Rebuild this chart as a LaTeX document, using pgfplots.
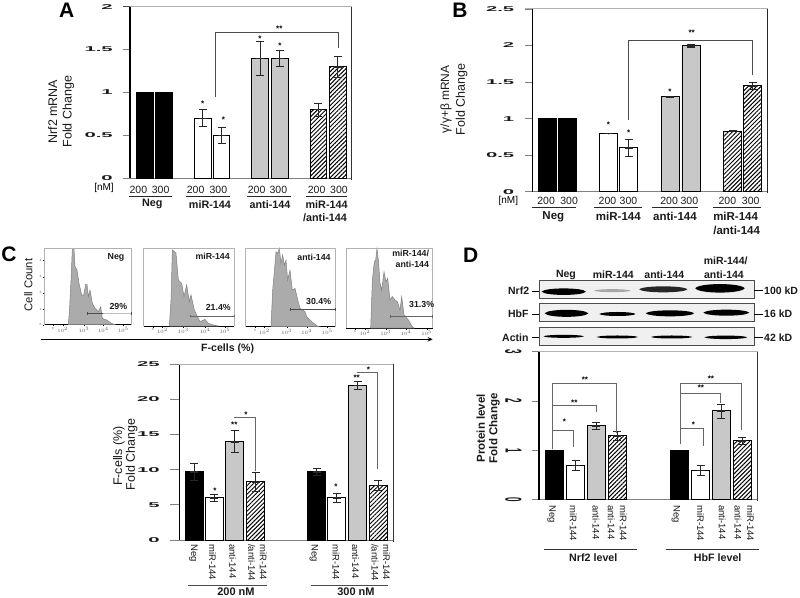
\documentclass[border=0pt]{standalone}
\usepackage{fontspec}
\setmainfont{Liberation Sans}
\usepackage{pgfplots}
\pgfplotsset{compat=1.18}
\usetikzlibrary{patterns.meta,arrows.meta}
\newcommand{\fs}[1]{\fontsize{#1}{#1}\selectfont}
\definecolor{ink}{HTML}{1A1A1A}
\definecolor{bargray}{HTML}{C8C8C8}
\definecolor{histgray}{HTML}{ABABAB}
\pgfplotsset{
  barax/.style={
    scale only axis, clip=false, enlargelimits=false, ymin=0,
    ybar, axis x line*=bottom, axis y line*=left,
    axis line style={-}, tick align=outside,
    x axis line style={draw=gray, line width=1pt},
    y axis line style={draw=black, line width=1.6pt},
    ytick style={draw=gray, line width=1pt},
    major x tick style={draw=none},
    tick label style={text=ink},
    yticklabel style={font=\bfseries\fs{7}, xscale=2.9},
    xticklabel style={font=\fs{10.5}, anchor=north},
    error bars/y dir=both, error bars/y explicit,
    error bars/error mark=none,
    error bars/error bar style={line width=1pt, black!85,
      {Bar[width=8pt,line width=0.5pt]}-{Bar[width=8pt,line width=0.5pt]}},
  },
  negbar/.style={bar shift=0pt, draw=black, line width=1pt, fill=black},
  mirbar/.style={bar shift=0pt, draw=black, line width=1pt, fill=white},
  antibar/.style={bar shift=0pt, draw=black, line width=1pt, fill=bargray},
  bothbar/.style={bar shift=0pt, draw=black, line width=1pt,
    pattern={Lines[angle=45,distance=3pt,line width=1pt]}, pattern color=black},
  flow/.style={
    scale only axis, clip=false, enlargelimits=false, ymin=0,
    axis line style={draw=gray!60, line width=0.6pt},
    axis x line*=bottom, axis y line*=left,
    x axis line style={draw=black, line width=0.7pt, -},
    y axis line style={draw=gray!60, line width=0.6pt, -},
    tick align=outside, major tick length=1.5pt,
    tick style={draw=black, line width=0.3pt},
    tick label style={font=\fs{3}, text=gray!70!black, inner sep=1pt},
    xticklabels={0,$10^2$,$10^3$,$10^4$,$10^5$},
    ytick=\empty,
  },
}
\begin{document}
\begin{tikzpicture}[x=1pt,y=-1pt]
\useasboundingbox (0,0) rectangle (800,597);

% ---------- A ----------
\begin{axis}[barax, at={(130pt,-178pt)}, anchor=south west, width=222pt, height=171.3pt,
  xmin=390, xmax=1056, ymax=2, bar width=50,
  ytick={0,0.5,1,1.5,2}, yticklabels={0,0.5,1,1.5,2}, major tick length=7pt,
  xtick={415,482,587,655,770,835,950,1017},
  xticklabels={200,300,200,300,200,300,200,300},
  xticklabel style={yshift=2pt}]
\addplot[negbar] coordinates {(435.5,1) (492.5,1)};
\addplot[mirbar] coordinates {(608,0.7) +- (0,0.1) (664.5,0.5) +- (0,0.1)};
\addplot[antibar] coordinates {(780,1.4) +- (0,0.2) (839,1.4) +- (0,0.1)};
\addplot[bothbar] coordinates {(955,0.8) +- (0,0.08) (1013,1.3) +- (0,0.13)};
\end{axis}
\begin{scope}[x=0.3333pt,y=-0.3333pt]
\draw[black!70,line width=0.7pt] (390,20) -- (370,20);
\draw[gray!60,line width=1pt] (390,20) -- (1056,20);
\draw[black!80,line width=1pt] (1056,20) -- (1056,540);
\draw[black!70,line width=0.8pt] (645,290) -- (645,97) -- (1015,97) -- (1015,145);
\foreach \x/\y in {608/312,670/360,780/115,840/138} \node[font=\bfseries\fs{8}] at (\x,\y) {*};
\node[font=\bfseries\fs{8}] at (838,87) {**};
\node[font=\bfseries\fs{21}] at (200,32) {A};
\node[font=\fs{10},inner sep=0pt] at (312,565) {[nM]};
\foreach \a/\b in {388/515,558/690,740/872,918/1042} \draw[black!85,line width=1pt] (\a,590) -- (\b,590);
\node[font=\bfseries\fs{10.8},text=ink] at (457,613) {Neg};
\node[font=\bfseries\fs{10.8},text=ink] at (630,613) {miR-144};
\node[font=\bfseries\fs{10.8},text=ink] at (810,613) {anti-144};
\node[font=\bfseries\fs{10.8},text=ink] at (980,613) {miR-144};
\node[font=\bfseries\fs{10.8},text=ink] at (975,654) {/anti-144};
\node[font=\fs{12.5},rotate=90,text=ink] at (158,335) {Nrf2 mRNA};
\node[font=\fs{12.5},rotate=90,text=ink] at (205,335) {Fold Change};
\end{scope}

% ---------- B ----------
\begin{axis}[barax, at={(532.5pt,-191.7pt)}, anchor=south west, width=235.2pt, height=182.7pt,
  xmin=397, xmax=1103, ymax=2.5, bar width=54,
  ytick={0,0.5,1,1.5,2,2.5}, yticklabels={0,0.5,1,1.5,2,2.5}, major tick length=8pt,
  xtick={438,507,622,685,807,868,982,1052},
  xticklabels={200,300,200,300,200,300,200,300},
  xticklabel style={yshift=6pt}]
\addplot[negbar] coordinates {(441.5,1) (503,1)};
\addplot[mirbar] coordinates {(625.5,0.8) +- (0,0.01) (686,0.6) +- (0,0.12)};
\addplot[antibar] coordinates {(811,1.3) +- (0,0.01) (874,2) +- (0,0.02)};
\addplot[bothbar] coordinates {(997.5,0.83) +- (0,0.01) (1058.5,1.45) +- (0,0.05)};
\end{axis}
\begin{scope}[shift={(400,0)},x=0.3333pt,y=-0.3333pt]
\draw[gray!60,line width=1pt] (375,27) -- (1103,27);
\draw[black!85,line width=1.2pt] (1103,27) -- (1103,580);
\draw[black!70,line width=0.8pt] (685,360) -- (685,122) -- (1058,122) -- (1058,225);
\foreach \x/\y in {625/375,686/397,810/275} \node[font=\bfseries\fs{8}] at (\x,\y) {*};
\node[font=\bfseries\fs{8}] at (875,97) {**};
\node[font=\bfseries\fs{21}] at (180,30) {B};
\node[font=\fs{10},inner sep=0pt] at (325,604) {[nM]};
\foreach \a/\b in {395/527,582/725,755/893,938/1083} \draw[black!85,line width=1pt] (\a,622) -- (\b,622);
\node[font=\bfseries\fs{11.5},text=ink] at (460,650) {Neg};
\node[font=\bfseries\fs{11.5},text=ink] at (655,650) {miR-144};
\node[font=\bfseries\fs{11.5},text=ink] at (825,650) {anti-144};
\node[font=\bfseries\fs{11.5},text=ink] at (1007,650) {miR-144};
\node[font=\bfseries\fs{11.5},text=ink] at (1010,692) {/anti-144};
\node[font=\fs{12},rotate=90,text=ink] at (138,298) {γ/γ+β mRNA};
\node[font=\fs{12.5},rotate=90,text=ink] at (185,298) {Fold Change};
\end{scope}

% ---------- C lower ----------
\begin{axis}[barax, at={(179.3pt,-540pt)}, anchor=south west, width=214.7pt, height=175.7pt,
  xmin=238, xmax=882, ymax=25, bar width=54,
  ytick={0,5,10,15,20,25}, yticklabels={0,5,10,15,20,25}, major tick length=9.3pt,
  xtick=\empty]
\addplot[negbar] coordinates {(283.5,9.7) +- (0,1.3) (650.5,9.7) +- (0,0.5)};
\addplot[mirbar] coordinates {(343.5,6) +- (0,0.5) (711,6) +- (0,0.7)};
\addplot[antibar] coordinates {(405,14) +- (0,1.6) (773.5,22) +- (0,0.6)};
\addplot[bothbar] coordinates {(467,8.3) +- (0,1.4) (835,7.8) +- (0,0.8)};
\end{axis}
\begin{scope}[shift={(100,360)},x=0.3333pt,y=-0.3333pt]
\draw[gray!60,line width=1pt] (238,13) -- (882,13);
\draw[black!80,line width=1pt] (882,13) -- (882,545);
\draw[black!60,line width=0.8pt] (403,172) -- (467,172) -- (467,333);
\draw[black!60,line width=0.8pt] (770,38) -- (832,38) -- (832,328);
\foreach \x/\y in {345/392,438/163,708/380,805/28} \node[font=\bfseries\fs{8}] at (\x,\y) {*};
\foreach \x/\y in {403/195,770/52} \node[font=\bfseries\fs{8}] at (\x,\y) {**};
\foreach \x/\t in {280/Neg,338/miR-144,398/anti-144,455/{/anti-144},490/miR-144,642/Neg,708/miR-144,767/anti-144,825/{/anti-144},860/miR-144}
  \node[font=\fs{9.5},rotate=-90,anchor=west,text=ink,inner sep=0pt] at (\x,552) {\t};
\draw[black!70,line width=0.9pt] (265,675) -- (500,675);
\draw[black!70,line width=0.9pt] (633,675) -- (865,675);
\node[font=\bfseries\fs{11},text=ink,inner sep=0pt] at (408,695) {200 nM};
\node[font=\bfseries\fs{11},text=ink,inner sep=0pt] at (768,695) {300 nM};
\node[font=\fs{12.5},rotate=90,text=ink] at (57,288) {F-cells (\%)};
\node[font=\fs{12.5},rotate=90,text=ink] at (95,283) {Fold Change};
\end{scope}

% ---------- C flow histograms ----------
\begin{axis}[flow, at={(44pt,-324.7pt)}, anchor=south west, width=87.7pt, height=76.4pt,
  xmin=27, xmax=290, ymax=229, xtick={53,83,147,205,265}, ytick={0,47,96,144,192}, yticklabels={0,1,2,3,4}]
\addplot[fill=histgray, draw=gray, line width=0.5pt] coordinates {(100,0) (104,54) (108,134) (112,229) (117,229) (120,174) (126,164) (132,124) (140,89) (146,89) (152,121) (156,121) (160,84) (165,104) (172,64) (180,49) (190,39) (197,54) (202,19) (215,14) (230,4) (240,0)} \closedcycle;
\end{axis}
\begin{axis}[flow, at={(143.7pt,-326pt)}, anchor=south west, width=90.6pt, height=77.7pt,
  xmin=326, xmax=598, ymax=233, xtick={353,382,445,510,570}]
\addplot[fill=histgray, draw=gray, line width=0.5pt] coordinates {(403,0) (408,78) (412,228) (418,223) (423,218) (430,138) (440,128) (447,88) (455,123) (463,73) (468,93) (478,48) (485,33) (495,13) (510,20) (520,8) (535,3) (550,0)} \closedcycle;
\end{axis}
\begin{axis}[flow, at={(245pt,-326.7pt)}, anchor=south west, width=90pt, height=78.3pt,
  xmin=15, xmax=285, ymax=235, xtick={45,73,140,200,262}]
\addplot[fill=histgray, draw=gray, line width=0.5pt] coordinates {(93,0) (98,110) (103,165) (108,225) (113,220) (118,235) (123,190) (128,215) (133,185) (138,200) (143,140) (150,170) (157,110) (165,115) (172,85) (180,55) (195,45) (200,30) (215,15) (232,2) (238,0)} \closedcycle;
\end{axis}
\begin{axis}[flow, at={(346pt,-328pt)}, anchor=south west, width=86.7pt, height=79.7pt,
  xmin=318, xmax=578, ymax=239, xtick={345,375,437,498,560}]
\addplot[fill=histgray, draw=gray, line width=0.5pt] coordinates {(392,0) (397,144) (403,199) (407,204) (411,239) (416,194) (420,134) (425,114) (432,169) (438,139) (443,149) (450,84) (457,94) (465,84) (472,79) (480,54) (485,94) (492,39) (505,24) (517,4) (522,0)} \closedcycle;
\end{axis}
\begin{scope}[shift={(35,240)},x=0.3333pt,y=-0.3333pt]
\draw[gray!60,line width=0.6pt] (27,25) -- (290,25) -- (290,254);
\draw[gray!60,line width=0.6pt] (326,25) -- (598,25) -- (598,258);
\draw[black!70,line width=0.7pt] (158,220) -- (205,220);
\draw[gray!50,line width=0.5pt] (205,220) -- (290,220);
\draw[black!70,line width=0.5pt] (158,216) -- (158,224) (290,216) -- (290,224);
\draw[black!60,line width=0.7pt] (467,228) -- (598,228) (467,224) -- (467,232) (598,224) -- (598,232);
\node[font=\bfseries\fs{8.8},text=ink] at (243,52) {Neg};
\node[font=\bfseries\fs{8.8},text=ink] at (533,48) {miR-144};
\node[font=\bfseries\fs{8.8},text=ink] at (250,198) {29\%};
\node[font=\bfseries\fs{8.8},text=ink] at (550,203) {21.4\%};
\end{scope}
\begin{scope}[shift={(240,240)},x=0.3333pt,y=-0.3333pt]
\draw[gray!60,line width=0.6pt] (15,25) -- (285,25) -- (285,260);
\draw[gray!60,line width=0.6pt] (318,25) -- (578,25) -- (578,264);
\draw[black!70,line width=0.7pt] (150,208) -- (285,208) (150,204) -- (150,212) (285,204) -- (285,212);
\draw[black!60,line width=0.7pt] (450,230) -- (578,230) (450,226) -- (450,234) (578,226) -- (578,234);
\node[font=\bfseries\fs{8.8},text=ink] at (222,52) {anti-144};
\node[font=\bfseries\fs{8.8},text=ink] at (512,40) {miR-144/};
\node[font=\bfseries\fs{8.8},text=ink] at (517,73) {anti-144};
\node[font=\bfseries\fs{8.8},text=ink] at (236,183) {30.4\%};
\node[font=\bfseries\fs{8.8},text=ink] at (545,192) {31.3\%};
\end{scope}
\begin{scope}[shift={(0,240)},x=0.3333pt,y=-0.3333pt]
\node[font=\bfseries\fs{21}] at (27,42) {C};
\node[font=\fs{11.3},rotate=90,text=ink] at (85,135) {Cell Count};
\draw[line width=1.2pt,-{Stealth[length=5pt,width=4.5pt]}] (122,298) -- (1298,298);
\node[font=\bfseries\fs{10.6},text=ink] at (683,327) {F-cells (\%)};
\end{scope}

% ---------- D lower ----------
\begin{axis}[barax, at={(538.7pt,-499.7pt)}, anchor=south west, width=219.3pt, height=148pt,
  xmin=206, xmax=864, ymax=3, bar width=54,
  ytick={0,1,2,3}, yticklabels={0,1,2,3}, major tick length=7pt, xtick=\empty,
  yticklabel style={font=\bfseries\fs{8}, xscale=1, rotate=-90, anchor=north}]
\addplot[negbar] coordinates {(253,1) (628,1)};
\addplot[mirbar] coordinates {(316.5,0.7) +- (0,0.1) (692,0.6) +- (0,0.1)};
\addplot[antibar] coordinates {(379,1.5) +- (0,0.07) (754,1.8) +- (0,0.15)};
\addplot[bothbar] coordinates {(441,1.3) +- (0,0.1) (817,1.2) +- (0,0.08)};
\end{axis}
\begin{scope}[shift={(470,350)},x=0.3333pt,y=-0.3333pt]
\draw[gray!60,line width=1pt] (206,5) -- (864,5);
\draw[black!80,line width=1pt] (864,5) -- (864,452);
\begin{scope}[black!60,line width=0.9pt]
\draw (247,298) -- (247,100) -- (440,100) -- (440,250);
\draw (247,165) -- (378,165) -- (378,185);
\draw (247,240) -- (310,240) -- (310,290);
\draw (630,282) -- (630,100) -- (813,100) -- (813,240);
\draw (630,131) -- (752,131) -- (752,160);
\draw (630,234) -- (700,234) -- (700,288);
\end{scope}
\foreach \x/\y in {283/215,670/225} \node[font=\bfseries\fs{8}] at (\x,\y) {*};
\foreach \x/\y in {345/88,313/157,723/87,693/113} \node[font=\bfseries\fs{8}] at (\x,\y) {**};
\foreach \x/\t in {245/Neg,310/miR-144,378/anti-144,424/anti-144,460/miR-144/,618/Neg,692/miR-144,757/anti-144,804/anti-144,842/miR-144/}
  \node[font=\fs{9.5},rotate=-90,anchor=west,text=ink,inner sep=0pt] at (\x,465) {\t};
\draw[black!80,line width=1pt] (222,598) -- (500,598);
\draw[black!80,line width=1pt] (587,598) -- (866,598);
\node[font=\bfseries\fs{10.7},text=ink] at (370,622) {Nrf2 level};
\node[font=\bfseries\fs{10.7},text=ink] at (743,622) {HbF level};
\node[font=\bfseries\fs{11.5},rotate=90,text=ink] at (32,235) {Protein level};
\node[font=\bfseries\fs{11.5},rotate=90,text=ink] at (73,235) {Fold Change};
\end{scope}

% ---------- D blots ----------
\newcommand{\band}[5][black]{\fill[#1] (#2,#4) .. controls ({#2+10},{#4-#5}) and ({#3-10},{#4-#5}) .. (#3,#4) .. controls ({#3-10},{#4+#5}) and ({#2+10},{#4+#5}) .. cycle;}
\begin{scope}[shift={(470,240)},x=0.3333pt,y=-0.3333pt]
\foreach \a/\b in {122/175,189/243,261/315} {
  \fill[gray!12] (209,\a) rectangle (852,\b);
  \draw[black!70,line width=0.7pt] (209,\a) rectangle (852,\b);
}
\band{215}{348}{155}{13}
\band[gray!70]{372}{482}{152}{6}
\band[black!85]{508}{652}{148}{12}
\band{676}{824}{145}{17}
\band{224}{355}{220}{14}
\band{388}{497}{222}{8}
\band{528}{672}{220}{12}
\band{700}{838}{218}{12}
\band{220}{342}{289}{6}
\band{380}{504}{291}{6}
\band{543}{667}{291}{6}
\band{703}{832}{292}{7}
\node[font=\bfseries\fs{10.5},text=ink] at (288,105) {Neg};
\node[font=\bfseries\fs{10.5},text=ink] at (430,105) {miR-144};
\node[font=\bfseries\fs{10.5},text=ink] at (583,105) {anti-144};
\node[font=\bfseries\fs{10.5},text=ink] at (767,62) {miR-144/};
\node[font=\bfseries\fs{10.5},text=ink] at (762,105) {anti-144};
\node[font=\bfseries\fs{10.5},text=ink,anchor=east,inner sep=0pt] at (178,153) {Nrf2};
\node[font=\bfseries\fs{10.5},text=ink,anchor=east,inner sep=0pt] at (176,222) {HbF};
\node[font=\bfseries\fs{10.5},text=ink,anchor=east,inner sep=0pt] at (176,293) {Actin};
\foreach \y in {153,222,293} \draw[black,line width=0.7pt] (187,\y) -- (207,\y);
\foreach \y in {150,222,292} \draw[black,line width=0.7pt] (853,\y) -- (880,\y);
\node[font=\bfseries\fs{10.5},text=ink,anchor=west,inner sep=0pt] at (882,152) {100 kD};
\node[font=\bfseries\fs{10.5},text=ink,anchor=west,inner sep=0pt] at (882,222) {16 kD};
\node[font=\bfseries\fs{10.5},text=ink,anchor=west,inner sep=0pt] at (882,292) {42 kD};
\node[font=\bfseries\fs{21}] at (2,45) {D};
\end{scope}
\end{tikzpicture}
\end{document}
